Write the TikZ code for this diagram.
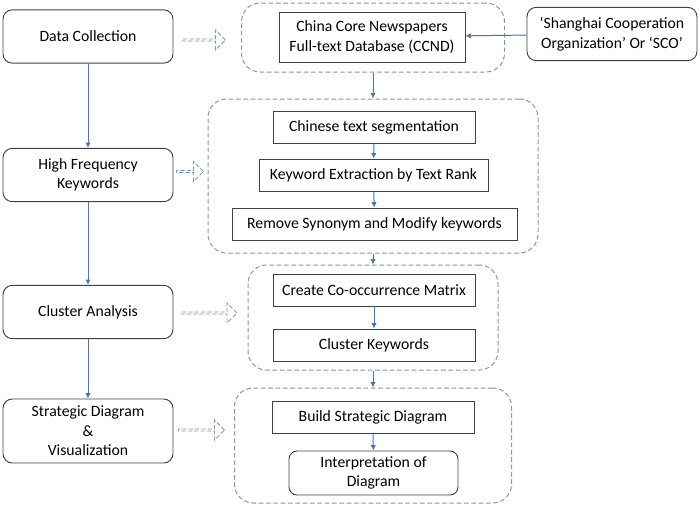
\documentclass[tikz,border=0pt]{standalone}
\usepackage{fontspec}
\setmainfont{Carlito}
\usepackage{tikz}
\usetikzlibrary{arrows.meta,shapes.arrows}
\definecolor{flowblue}{RGB}{68,114,196}
\definecolor{groupgray}{RGB}{132,151,176}
\tikzset{
    leftbox/.style={draw=black!75, line width=0.7pt, rounded corners=7pt, align=center,
        minimum width=127.5pt, minimum height=40pt, inner sep=2pt},
    stepbox/.style={draw=black!75, line width=0.7pt, align=center,
        minimum width=151.5pt, minimum height=24pt, inner sep=2pt},
    group/.style={draw=groupgray, line width=0.75pt, dash pattern=on 3.5pt off 2pt,
        rounded corners=14pt, inner sep=0pt},
    hollow/.style={single arrow, draw=groupgray, line width=0.7pt, dash pattern=on 3.2pt off 1.6pt,
        minimum width=15pt, single arrow head extend=3.2pt, inner sep=0pt},
    flow/.style={draw=flowblue, line width=0.75pt, -{Latex[length=4pt,width=4pt]}}
}

\begin{document}
\begin{tikzpicture}[x=0.75pt, y=-0.75pt, font=\fontsize{11.8}{14.6}\selectfont]
        \useasboundingbox (0,0) rectangle (700,507);
        % process steps
        \node[leftbox] (collect) at (88,36.5) {Data Collection};
        \node[leftbox] (freq) at (88,175) {High Frequency\\Keywords};
        \node[leftbox] (cluster) at (88,312) {Cluster Analysis};
        \node[leftbox, minimum height=48pt] (strategy) at (88,431) {Strategic Diagram\\\&\\Visualization};
        % dashed groups
        \node[group, minimum width=197.25pt, minimum height=51.75pt] (dbgroup) at (373,37.5) {};
        \node[group, minimum width=247.5pt, minimum height=115.5pt] (textgroup) at (373,176) {};
        \node[group, minimum width=187.5pt, minimum height=78.75pt] (clustergroup) at (373,317.5) {};
        \node[group, minimum width=207.75pt, minimum height=86.25pt] (diagramgroup) at (373,445.5) {};
        % hollow arrows
        \node[hollow, minimum height=32.25pt] (h1) at (203.5,40) {};
        \node[hollow, minimum height=20.25pt] (h2) at (189.5,171.5) {};
        \node[hollow, minimum height=42pt] (h3) at (208.5,313) {};
        \node[hollow, minimum height=34.5pt] (h4) at (201,430) {};
        % details
        \node[stepbox, minimum width=139.5pt, minimum height=37.5pt] (ccnd) at (372,37) {China Core Newspapers\\Full-text Database (CCND)};
        \node[leftbox] (sco) at (612,34) {`Shanghai Cooperation\\Organization' Or `SCO'};
        \node[stepbox] (seg) at (374,127) {Chinese text segmentation};
        \node[stepbox, minimum width=171.75pt] (extract) at (373.5,175) {Keyword Extraction by Text Rank};
        \node[stepbox, minimum width=213.75pt] (remove) at (374.5,224) {Remove Synonym and Modify keywords};
        \node[stepbox] (matrix) at (374,290) {Create Co-occurrence Matrix};
        \node[stepbox] (ckw) at (374,345) {Cluster Keywords};
        \node[stepbox] (build) at (373,417.5) {Build Strategic Diagram};
        \node[leftbox, minimum width=126.75pt, minimum height=33pt, rounded corners=6pt] (interp) at (373.5,473) {Interpretation of\\Diagram};
        % connectors
        \draw[flow] (collect) -- (freq);
        \draw[flow] (freq) -- (cluster);
        \draw[flow] (cluster) -- (strategy);
        \draw[flow] (sco) -- (ccnd);
        \draw[flow] (dbgroup) -- (textgroup);
        \draw[flow] (seg) -- (extract);
        \draw[flow] (extract) -- (remove);
        \draw[flow] (textgroup) -- (clustergroup);
        \draw[flow] (matrix) -- (ckw);
        \draw[flow] (clustergroup) -- (diagramgroup);
        \draw[flow] (build) -- (interp);
    \end{tikzpicture}
\end{document}
